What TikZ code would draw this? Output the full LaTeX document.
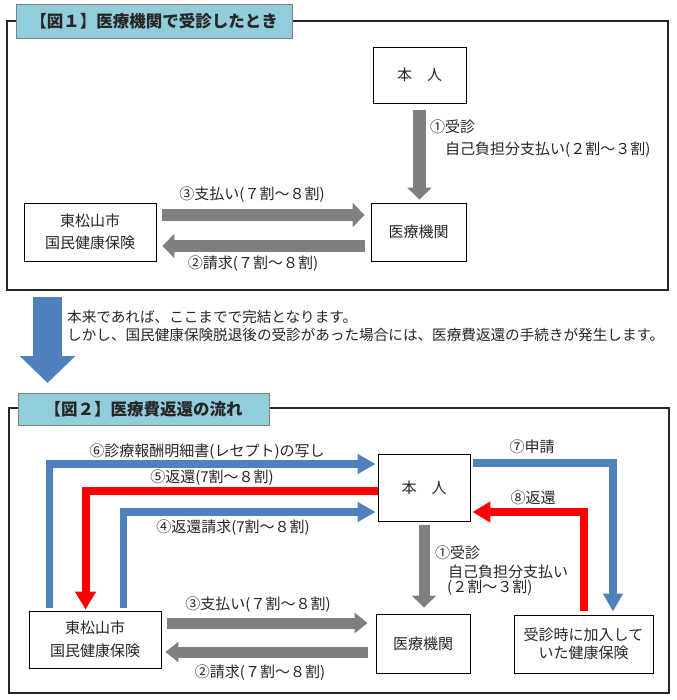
\documentclass[tikz,border=0pt]{standalone}
\usepackage{fontspec}
\setmainfont{Noto Sans CJK JP}
\usetikzlibrary{arrows.meta,calc}
\definecolor{titlebg}{HTML}{92CDDC}
\definecolor{flowgray}{HTML}{7F7F7F}
\definecolor{flowblue}{HTML}{4F81BD}
\definecolor{flowred}{HTML}{FF0000}
\definecolor{txt}{HTML}{262626}

\begin{document}
\begin{tikzpicture}[x=1pt,y=-1pt,
  font=\fontsize{15}{18}\selectfont,
  unitbox/.style={draw=black,line width=0.9pt,fill=white,inner sep=0pt,
    align=center,text=txt},
  panel/.style={draw=black!85,line width=1.5pt},
  titlebox/.style={draw=black!50,line width=0.8pt,fill=titlebg,inner sep=0pt,
    font=\fontsize{16.5}{20}\selectfont\bfseries,text=black!85},
  lbl/.style={text=txt,inner sep=0pt},
  grayflow/.style={draw=flowgray,line width=12pt,
    -{Triangle[length=12pt,width=24pt]}},
  blueflow/.style={draw=flowblue,line width=7.5pt,
    -{Triangle[length=18pt,width=19pt]}},
  redflow/.style={draw=flowred,line width=8pt,
    -{Triangle[length=18pt,width=20pt]}},
  bigflow/.style={draw=flowblue,line width=29pt,
    -{Triangle[length=27pt,width=54pt]}}]

  \useasboundingbox (0,0) rectangle (676,700);

  % figure 1 frame and title
  \draw[panel] (7,21) rectangle (668,290);
  \node[titlebox,minimum width=276pt,minimum height=34pt] (t1) at (154,21)
    {【図１】医療機関で受診したとき};

  % figure 1 parties
  \node[unitbox,minimum width=93pt,minimum height=56pt] (p1) at (419.5,75) {本　人};
  \node[unitbox,minimum width=95pt,minimum height=58pt] (h1) at (418.5,232) {医療機関};
  \node[unitbox,minimum width=132pt,minimum height=58pt] (c1) at (90,232)
    {東松山市\\[4pt]国民健康保険};

  % figure 1 flows
  \draw[grayflow,line width=13pt,shorten <=7pt,shorten >=3pt]
    (p1.south) -- (p1.south |- h1.north);
  \draw[grayflow,shorten <=6pt,shorten >=6pt]
    ([yshift=17pt]c1.east) -- ([yshift=17pt]c1.east -| h1.west);
  \draw[grayflow,shorten <=6pt,shorten >=6pt]
    ([yshift=-14pt]c1.east -| h1.west) -- ([yshift=-14pt]c1.east);

  \node[lbl,anchor=west] (l1a) at (430,127) {①受診};
  \node[lbl,anchor=west] (l1b) at (445,150) {自己負担分支払い(２割～３割)};
  \node[lbl] (l1c) at (252,195) {③支払い(７割～８割)};
  \node[lbl] (l1d) at (253,264) {②請求(７割～８割)};

  % transition
  \coordinate (drop top) at (47.5,297);
  \coordinate (drop tip) at (47.5,383);
  \draw[bigflow] (drop top) -- (drop tip);
  \node[lbl,anchor=west,align=left,font=\fontsize{14.6}{18}\selectfont] (note) at (67,326)
    {本来であれば、ここまでで完結となります。\\
     しかし、国民健康保険脱退後の受診があった場合には、医療費返還の手続きが発生します。};

  % figure 2 frame and title
  \draw[panel] (9,408) rectangle (669,693);
  \node[titlebox,minimum width=251pt,minimum height=32pt] (t2) at (143.5,409)
    {【図２】医療費返還の流れ};

  % figure 2 parties
  \node[unitbox,minimum width=92pt,minimum height=67pt] (p2) at (424,487.5) {本　人};
  \node[unitbox,minimum width=94pt,minimum height=59pt] (h2) at (423,643.5) {医療機関};
  \node[unitbox,minimum width=132pt,minimum height=57pt] (c2) at (95,639.5)
    {東松山市\\[5pt]国民健康保険};
  \node[unitbox,minimum width=139pt,minimum height=58pt] (k2) at (583.5,644)
    {受診時に加入して\\[0pt]いた健康保険};

  % figure 2 flows
  \draw[blueflow,shorten <=3pt,shorten >=2pt]
    ([xshift=21pt]c2.north west) |- ([yshift=23.5pt]p2.west);
  \draw[redflow,shorten >=1pt]
    ([yshift=-3.5pt]p2.west) -| ([xshift=57pt]c2.north west);
  \draw[blueflow,shorten <=3pt,shorten >=2pt]
    ([xshift=95pt]c2.north west) |- ([yshift=-24.5pt]p2.west);
  \draw[blueflow,shorten <=3pt,shorten >=3pt]
    ([yshift=24.5pt]p2.east) -| ([xshift=29.5pt]k2.north);
  \draw[redflow,shorten <=4pt,shorten >=2pt]
    (k2.north) |- ([yshift=-24.5pt]p2.east);
  \draw[grayflow,line width=11pt,shorten <=4pt,shorten >=6pt]
    (p2.south) -- (p2.south |- h2.north);
  \draw[grayflow,line width=11pt,-{Triangle[length=13pt,width=20pt]},
    shorten <=6pt,shorten >=8pt]
    ([yshift=16.5pt]c2.east) -- ([yshift=16.5pt]c2.east -| h2.west);
  \draw[grayflow,line width=11pt,-{Triangle[length=13pt,width=20pt]},
    shorten <=8pt,shorten >=4pt]
    ([yshift=-12.5pt]c2.east -| h2.west) -- ([yshift=-12.5pt]c2.east);

  \node[lbl] (l6) at (207,452) {⑥診療報酬明細書(レセプト)の写し};
  \node[lbl] (l5) at (212,478) {⑤返還(7割～８割)};
  \node[lbl] (l4) at (233,528) {④返還請求(7割～８割)};
  \node[lbl] (l7) at (532,447) {⑦申請};
  \node[lbl] (l8) at (533,498) {⑧返還};
  \node[lbl,anchor=west] (l2a) at (435,553) {①受診};
  \node[lbl,anchor=west] (l2b) at (448,572) {自己負担分支払い};
  \node[lbl,anchor=west] (l2c) at (447,588) {(２割～３割)};
  \node[lbl] (l2d) at (258,605) {③支払い(７割～８割)};
  \node[lbl] (l2e) at (260,673) {②請求(７割～８割)};

\end{tikzpicture}
\end{document}
